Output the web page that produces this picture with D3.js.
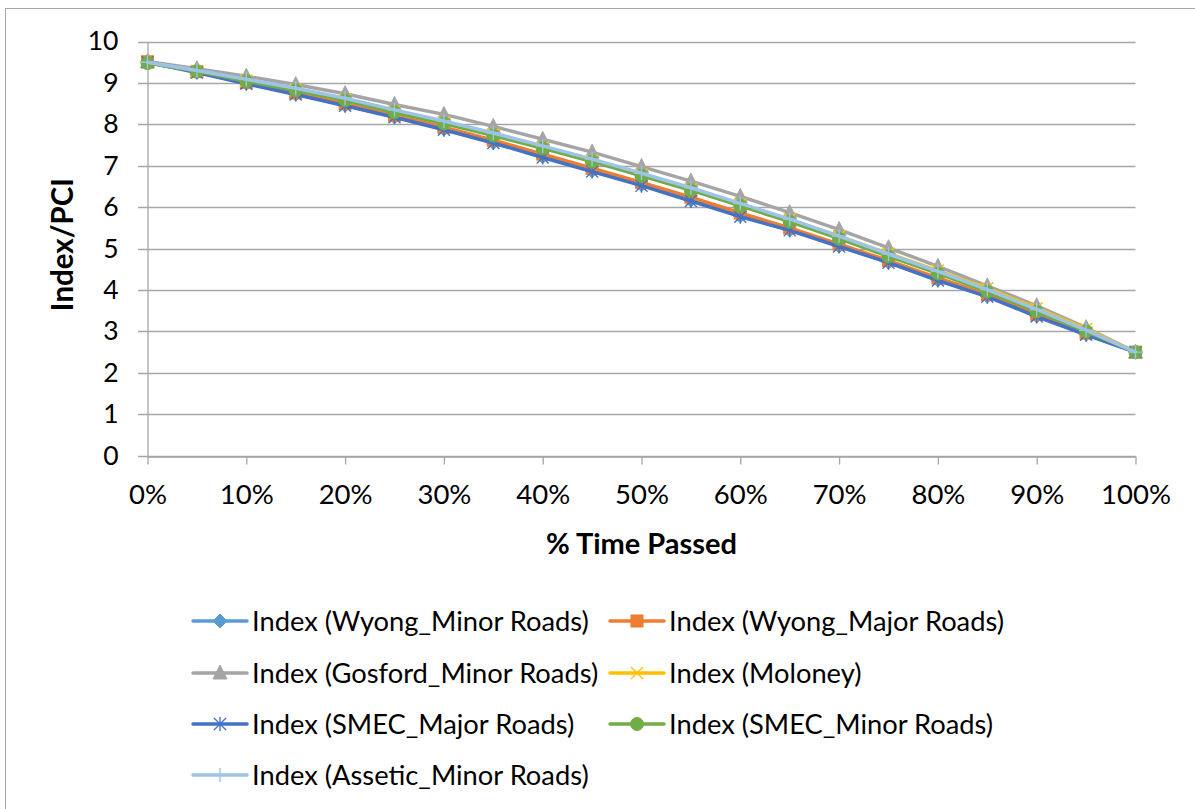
<!DOCTYPE html>
<html>
<head>
<meta charset="utf-8">
<script src="https://cdn.jsdelivr.net/npm/d3@7"></script>
<style>
  html, body { margin: 0; padding: 0; background: #fff; }
  svg { display: block; }
  text { font-family: Lato, "Open Sans", sans-serif; fill: #000; }
</style>
</head>
<body>
<svg id="chart" width="1195" height="809"></svg>
<script>
// % of time passed (x) and index values per curve
const timePassed = [0, 0.05, 0.10, 0.15, 0.20, 0.25, 0.30, 0.35, 0.40, 0.45, 0.50,
                    0.55, 0.60, 0.65, 0.70, 0.75, 0.80, 0.85, 0.90, 0.95, 1.00];

const wyongMinor   = [9.50, 9.26, 8.99, 8.73, 8.46, 8.18, 7.88, 7.56, 7.22, 6.88, 6.54, 6.17, 5.79, 5.45, 5.06, 4.67, 4.24, 3.85, 3.37, 2.93, 2.50];
const wyongMajor   = [9.51, 9.27, 9.01, 8.76, 8.50, 8.22, 7.93, 7.62, 7.28, 6.94, 6.60, 6.24, 5.86, 5.50, 5.11, 4.71, 4.29, 3.89, 3.41, 2.96, 2.50];
const gosfordMinor = [9.52, 9.34, 9.16, 8.96, 8.74, 8.48, 8.24, 7.95, 7.64, 7.33, 6.98, 6.63, 6.26, 5.87, 5.46, 5.02, 4.57, 4.10, 3.62, 3.09, 2.50];
const moloney      = [9.49, 9.29, 9.06, 8.84, 8.60, 8.32, 8.05, 7.76, 7.45, 7.13, 6.79, 6.44, 6.07, 5.70, 5.30, 4.88, 4.47, 4.04, 3.56, 3.06, 2.50];
const smecMajor    = [9.50, 9.25, 8.98, 8.72, 8.45, 8.17, 7.87, 7.55, 7.20, 6.86, 6.52, 6.15, 5.77, 5.44, 5.05, 4.66, 4.23, 3.84, 3.36, 2.92, 2.50];
const smecMinor    = [9.48, 9.28, 9.04, 8.82, 8.58, 8.29, 8.02, 7.73, 7.42, 7.10, 6.76, 6.41, 6.03, 5.65, 5.24, 4.81, 4.40, 3.96, 3.48, 3.00, 2.50];
const asseticMinor = [9.50, 9.30, 9.09, 8.87, 8.63, 8.35, 8.08, 7.79, 7.48, 7.16, 6.82, 6.47, 6.09, 5.71, 5.30, 4.87, 4.45, 4.01, 3.53, 3.03, 2.50];

const seriesNames = [
  "Index (Wyong_Minor Roads)", "Index (Wyong_Major Roads)", "Index (Gosford_Minor Roads)",
  "Index (Moloney)", "Index (SMEC_Major Roads)", "Index (SMEC_Minor Roads)", "Index (Assetic_Minor Roads)"
];
const seriesValues = [wyongMinor, wyongMajor, gosfordMinor, moloney, smecMajor, smecMinor, asseticMinor];
const seriesColors = ["#5B9BD5", "#ED7D31", "#A5A5A5", "#FFC000", "#4472C4", "#70AD47", "#9DC3E6"];
const seriesMarkers = ["diamond", "square", "triangle", "x", "star", "circle", "plus"];

const yTicks = [0, 1, 2, 3, 4, 5, 6, 7, 8, 9, 10];
const xTicks = [0, 0.1, 0.2, 0.3, 0.4, 0.5, 0.6, 0.7, 0.8, 0.9, 1.0];

const svg = d3.select("#chart");

// chart frame
svg.append("rect")
  .attr("x", 5.5).attr("y", 8.5)
  .attr("width", 1200).attr("height", 820)
  .attr("fill", "#fff").attr("stroke", "#A6A6A6").attr("stroke-width", 1);

const x = d3.scaleLinear().domain([0, 1]).range([147.5, 1135.5]);
const y = d3.scaleLinear().domain([0, 10]).range([455.7, 41.5]);

// horizontal gridlines + small left ticks
const grid = svg.append("g");
grid.selectAll("line").data(yTicks).join("line")
  .attr("x1", 138).attr("x2", x(1))
  .attr("y1", d => Math.round(y(d)) + 0.5).attr("y2", d => Math.round(y(d)) + 0.5)
  .attr("stroke", "#A6A6A6").attr("stroke-width", 1.3);

// y axis
const yAxis = svg.append("g")
  .attr("transform", `translate(${x(0)},0)`)
  .call(d3.axisLeft(y).tickValues(yTicks).tickSize(0).tickPadding(29).tickFormat(d3.format("d")));
yAxis.select(".domain").attr("stroke", "#A6A6A6").attr("stroke-width", 1.3);
yAxis.selectAll("text").attr("font-size", 26.5).attr("font-family", "Lato, sans-serif").attr("fill", "#000");

// x axis
const xAxis = svg.append("g")
  .attr("transform", `translate(0,${Math.round(y(0)) + 0.5})`)
  .call(d3.axisBottom(x).tickValues(xTicks).tickSizeInner(8).tickSizeOuter(0).tickPadding(20).tickFormat(d3.format(".0%")));
xAxis.select(".domain").attr("stroke", "#A6A6A6").attr("stroke-width", 1.3);
xAxis.selectAll(".tick line").attr("stroke", "#A6A6A6").attr("stroke-width", 1.3);
xAxis.selectAll("text").attr("font-size", 27.5).attr("font-family", "Lato, sans-serif").attr("fill", "#000");

// axis titles
svg.append("text")
  .attr("x", x(0.5)).attr("y", 554)
  .attr("text-anchor", "middle").attr("font-size", 29).attr("font-weight", "bold")
  .text("% Time Passed");
svg.append("text")
  .attr("transform", `translate(73,${y(5) - 4}) rotate(-90)`)
  .attr("text-anchor", "middle").attr("font-size", 29.5).attr("font-weight", "bold")
  .text("Index/PCI");

// marker shapes
function drawMarker(g, type, color, cx, cy) {
  const s = 6;
  if (type === "diamond") {
    g.append("path").attr("d", `M${cx},${cy - 7}L${cx + 7},${cy}L${cx},${cy + 7}L${cx - 7},${cy}Z`)
      .attr("fill", color).attr("stroke", color);
  } else if (type === "square") {
    g.append("rect").attr("x", cx - s).attr("y", cy - s).attr("width", 2 * s).attr("height", 2 * s)
      .attr("fill", color).attr("stroke", color);
  } else if (type === "triangle") {
    g.append("path").attr("d", `M${cx},${cy - 8}L${cx + 7},${cy + 6}L${cx - 7},${cy + 6}Z`)
      .attr("fill", color).attr("stroke", color);
  } else if (type === "circle") {
    g.append("circle").attr("cx", cx).attr("cy", cy).attr("r", 6.5).attr("fill", color).attr("stroke", color);
  } else if (type === "x") {
    g.append("path").attr("d", `M${cx - s},${cy - s}L${cx + s},${cy + s}M${cx - s},${cy + s}L${cx + s},${cy - s}`)
      .attr("stroke", color).attr("stroke-width", 1.4).attr("fill", "none");
  } else if (type === "star") {
    g.append("path").attr("d", `M${cx - s},${cy - s}L${cx + s},${cy + s}M${cx - s},${cy + s}L${cx + s},${cy - s}M${cx},${cy - 7}L${cx},${cy + 7}`)
      .attr("stroke", color).attr("stroke-width", 1.4).attr("fill", "none");
  } else if (type === "plus") {
    g.append("path").attr("d", `M${cx - 7},${cy}L${cx + 7},${cy}M${cx},${cy - 7}L${cx},${cy + 7}`)
      .attr("stroke", color).attr("stroke-width", 1.4).attr("fill", "none");
  }
}

const line = d3.line().x((d, i) => x(timePassed[i])).y(d => y(d));

const plot = svg.append("g");
seriesValues.forEach((vals, k) => {
  const g = plot.append("g");
  g.append("path").datum(vals).attr("d", line)
    .attr("fill", "none").attr("stroke", seriesColors[k]).attr("stroke-width", 3.5)
    .attr("stroke-linejoin", "round").attr("stroke-linecap", "round");
  vals.forEach((v, i) => drawMarker(g, seriesMarkers[k], seriesColors[k], x(timePassed[i]), y(v)));
});

// legend
const legendPos = [
  [193, 621], [610, 621],
  [193, 673], [610, 673],
  [193, 724], [610, 724],
  [193, 775]
];
seriesNames.forEach((name, k) => {
  const [lx, ly] = legendPos[k];
  const g = svg.append("g");
  g.append("line").attr("x1", lx).attr("x2", lx + 54).attr("y1", ly).attr("y2", ly)
    .attr("stroke", seriesColors[k]).attr("stroke-width", 3.5).attr("stroke-linecap", "round");
  drawMarker(g, seriesMarkers[k], seriesColors[k], lx + 27, ly);
  g.append("text").attr("x", lx + 59).attr("y", ly + 9.5)
    .attr("font-size", 27.3).text(name);
});
</script>
</body>
</html>
